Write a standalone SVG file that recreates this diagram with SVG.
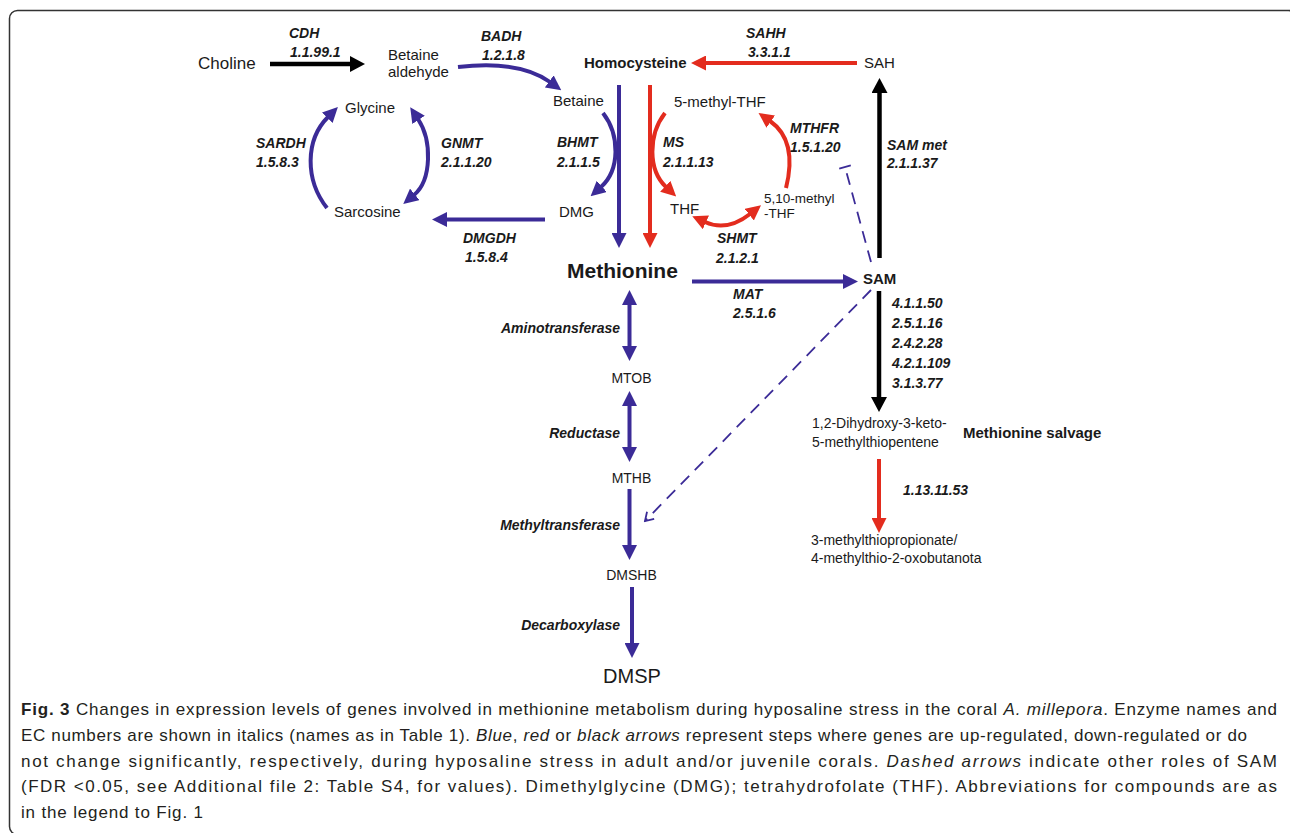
<svg xmlns="http://www.w3.org/2000/svg" width="1290" height="833" viewBox="0 0 1290 833">
<style>
text{font-family:"Liberation Sans",Arial,sans-serif;fill:#1a1a1a}
.c{font-size:15px}
.cs{font-size:14px}
.ct{font-size:13.5px}
.b{font-weight:bold}
.e{font-size:14px;font-weight:bold;font-style:italic}
.big{font-size:21px;font-weight:bold}
.dm{font-size:20px}
.cap{font-size:17px;fill:#231f20}
.i{font-style:italic}
.blue{stroke:#3b2b97;stroke-width:4;fill:none}
.red{stroke:#e32c1e;stroke-width:4;fill:none}
.blk{stroke:#000;stroke-width:4.5;fill:none}
.dash{stroke:#3b2b97;stroke-width:1.8;fill:none;stroke-dasharray:12 8}
</style>
<defs>
<marker id="hB" viewBox="0 0 15 15" markerWidth="15" markerHeight="15" refX="1" refY="7.5" orient="auto-start-reverse" markerUnits="userSpaceOnUse"><path d="M0,0L15,7.5L0,15z" fill="#3b2b97"/></marker>
<marker id="hR" viewBox="0 0 15 15" markerWidth="15" markerHeight="15" refX="1" refY="7.5" orient="auto-start-reverse" markerUnits="userSpaceOnUse"><path d="M0,0L15,7.5L0,15z" fill="#e32c1e"/></marker>
<marker id="hK" viewBox="0 0 15 16" markerWidth="15" markerHeight="16" refX="1" refY="8" orient="auto-start-reverse" markerUnits="userSpaceOnUse"><path d="M0,0L15,8L0,16z" fill="#000"/></marker>
<marker id="oB" viewBox="-10 -7 12 14" markerWidth="12" markerHeight="14" refX="0" refY="0" orient="auto" markerUnits="userSpaceOnUse"><path d="M-8,-5L0,0L-8,5" fill="none" stroke="#3b2b97" stroke-width="1.8"/></marker>
<marker id="tB" viewBox="-2 -8 4 16" markerWidth="4" markerHeight="16" refX="0" refY="0" orient="auto" markerUnits="userSpaceOnUse"><path d="M0,-6V6" fill="none" stroke="#3b2b97" stroke-width="1.8"/></marker>
</defs>

<rect x="9.5" y="10.5" width="1287" height="824" rx="8" fill="none" stroke="#333" stroke-width="1.5"/>

<g id="connectors">
<line class="blk" x1="270" y1="64" x2="351" y2="64" marker-end="url(#hK)"/>
<path class="blue" d="M458,67 Q520,60 550,82" marker-end="url(#hB)"/>
<line class="red" x1="857" y1="63" x2="705" y2="63" marker-end="url(#hR)"/>
<line class="blk" x1="879.5" y1="258" x2="879.5" y2="92" marker-end="url(#hK)"/>
<line class="blue" x1="619" y1="85" x2="619" y2="234" marker-end="url(#hB)"/>
<line class="red" x1="650" y1="85" x2="650" y2="234" marker-end="url(#hR)"/>
<path class="blue" d="M327,208 C305,180 305,140 328,117" marker-end="url(#hB)"/>
<path class="blue" d="M418,119 C432,140 432,180 414,195" marker-start="url(#hB)" marker-end="url(#hB)"/>
<path class="blue" d="M603,113 C620,135 620,170 601,187" marker-end="url(#hB)"/>
<path class="red" d="M665,113 C648,135 648,170 666,187" marker-end="url(#hR)"/>
<path class="red" d="M786,188 C793,160 790,135 770,121" marker-end="url(#hR)"/>
<path class="red" d="M705,222 Q727,232 750,214" marker-start="url(#hR)" marker-end="url(#hR)"/>
<line class="blue" x1="545" y1="219.5" x2="446" y2="219.5" marker-end="url(#hB)"/>
<line class="blue" x1="692" y1="281.5" x2="844" y2="281.5" marker-end="url(#hB)"/>
<line class="blk" x1="879" y1="291" x2="879" y2="398" marker-end="url(#hK)"/>
<line class="red" x1="879" y1="459" x2="879" y2="519" marker-end="url(#hR)"/>
<line class="blue" x1="629.5" y1="304" x2="629.5" y2="347" marker-start="url(#hB)" marker-end="url(#hB)"/>
<line class="blue" x1="629.5" y1="405" x2="629.5" y2="448" marker-start="url(#hB)" marker-end="url(#hB)"/>
<line class="blue" x1="629.5" y1="489" x2="629.5" y2="546" marker-end="url(#hB)"/>
<line class="blue" x1="632" y1="587" x2="632" y2="644" marker-end="url(#hB)"/>
<line class="dash" x1="871" y1="262" x2="845" y2="167" marker-end="url(#tB)"/>
<line class="dash" x1="871" y1="290" x2="645" y2="521" marker-end="url(#oB)"/>
</g>

<g id="enzymes">
<text class="e" x="289" y="38">CDH</text><text class="e" x="290" y="57">1.1.99.1</text>
<text class="e" x="481" y="41">BADH</text><text class="e" x="482" y="60">1.2.1.8</text>
<text class="e" x="746" y="38">SAHH</text><text class="e" x="748" y="57">3.3.1.1</text>
<text class="e" x="256" y="148">SARDH</text><text class="e" x="256" y="167">1.5.8.3</text>
<text class="e" x="441" y="148">GNMT</text><text class="e" x="441" y="167">2.1.1.20</text>
<text class="e" x="557" y="147">BHMT</text><text class="e" x="557" y="167">2.1.1.5</text>
<text class="e" x="663" y="147">MS</text><text class="e" x="663" y="167">2.1.1.13</text>
<text class="e" x="790" y="133">MTHFR</text><text class="e" x="790" y="152">1.5.1.20</text>
<text class="e" x="887" y="150">SAM met</text><text class="e" x="887" y="168">2.1.1.37</text>
<text class="e" x="463" y="243">DMGDH</text><text class="e" x="465" y="262">1.5.8.4</text>
<text class="e" x="717" y="243">SHMT</text><text class="e" x="716" y="263">2.1.2.1</text>
<text class="e" x="733" y="299">MAT</text><text class="e" x="733" y="318">2.5.1.6</text>
<text class="e" x="892" y="308">4.1.1.50</text>
<text class="e" x="892" y="328">2.5.1.16</text>
<text class="e" x="892" y="348">2.4.2.28</text>
<text class="e" x="892" y="368">4.2.1.109</text>
<text class="e" x="892" y="388">3.1.3.77</text>
<text class="e" x="903" y="495">1.13.11.53</text>
<text class="e" x="620" y="333" text-anchor="end">Aminotransferase</text>
<text class="e" x="620" y="438" text-anchor="end">Reductase</text>
<text class="e" x="620" y="530" text-anchor="end">Methyltransferase</text>
<text class="e" x="620" y="630" text-anchor="end">Decarboxylase</text>
</g>

<g id="choline"><text x="198" y="69" style="font-size:17px">Choline</text></g>
<g id="betaine-aldehyde"><text class="c" x="388" y="60">Betaine</text><text class="c" x="388" y="77">aldehyde</text></g>
<g id="homocysteine"><text class="c b" x="584" y="68">Homocysteine</text></g>
<g id="sah"><text class="c" x="864" y="68">SAH</text></g>
<g id="betaine"><text class="c" x="553" y="106">Betaine</text></g>
<g id="glycine"><text class="c" x="345" y="113">Glycine</text></g>
<g id="methyl-thf"><text class="c" x="674" y="107">5-methyl-THF</text></g>
<g id="sarcosine"><text class="c" x="334" y="217">Sarcosine</text></g>
<g id="dmg"><text class="c" x="559" y="217">DMG</text></g>
<g id="thf"><text class="c" x="670" y="214">THF</text></g>
<g id="methylene-thf"><text class="ct" x="764" y="203">5,10-methyl</text><text class="ct" x="764" y="218">-THF</text></g>
<g id="methionine"><text class="big" x="567" y="278">Methionine</text></g>
<g id="sam"><text class="c b" x="863" y="284">SAM</text></g>
<g id="mtob"><text class="cs" x="631.5" y="383" text-anchor="middle">MTOB</text></g>
<g id="mthb"><text class="cs" x="631.5" y="483" text-anchor="middle">MTHB</text></g>
<g id="dmshb"><text class="cs" x="631.5" y="580" text-anchor="middle">DMSHB</text></g>
<g id="dmsp"><text class="dm" x="632" y="683" text-anchor="middle">DMSP</text></g>
<g id="dhk-mtp"><text class="cs" x="812" y="428">1,2-Dihydroxy-3-keto-</text><text class="cs" x="812" y="447">5-methylthiopentene</text></g>
<g id="salvage-label"><text class="c b" x="963" y="438">Methionine salvage</text></g>
<g id="mtp"><text class="cs" x="811" y="545">3-methylthiopropionate/</text><text class="cs" x="811" y="563">4-methylthio-2-oxobutanota</text></g>

<g id="caption">
<text class="cap" x="21" y="715" textLength="1256" lengthAdjust="spacing"><tspan class="b">Fig. 3</tspan> Changes in expression levels of genes involved in methionine metabolism during hyposaline stress in the coral <tspan class="i">A. millepora</tspan>. Enzyme names and</text>
<text class="cap" x="21" y="741" textLength="1226" lengthAdjust="spacing">EC numbers are shown in italics (names as in Table 1). <tspan class="i">Blue</tspan>, <tspan class="i">red</tspan> or <tspan class="i">black arrows</tspan> represent steps where genes are up-regulated, down-regulated or do</text>
<text class="cap" x="21" y="766.5" textLength="1256" lengthAdjust="spacing">not change significantly, respectively, during hyposaline stress in adult and/or juvenile corals. <tspan class="i">Dashed arrows</tspan> indicate other roles of SAM</text>
<text class="cap" x="21" y="792" textLength="1256" lengthAdjust="spacing">(FDR &lt;0.05, see Additional file 2: Table S4, for values). Dimethylglycine (DMG); tetrahydrofolate (THF). Abbreviations for compounds are as</text>
<text class="cap" x="21" y="817.5" textLength="182" lengthAdjust="spacing">in the legend to Fig. 1</text>
</g>
</svg>
